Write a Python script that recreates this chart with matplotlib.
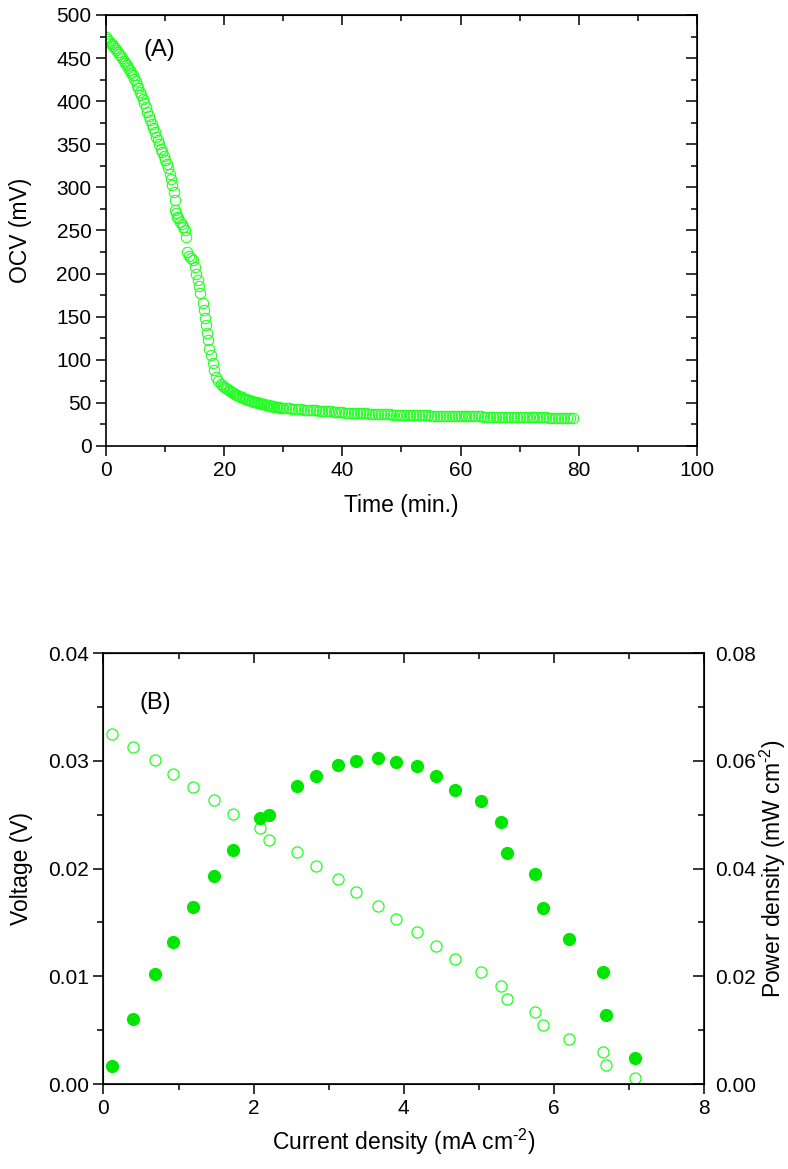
import matplotlib
matplotlib.use("Agg")
import matplotlib.pyplot as plt
from matplotlib.ticker import MultipleLocator

plt.rcParams['font.family'] = ['Liberation Sans', 'DejaVu Sans']
plt.rcParams['mathtext.fontset'] = 'custom'
plt.rcParams['mathtext.rm'] = 'Liberation Sans'
plt.rcParams['mathtext.it'] = 'Liberation Sans'
plt.rcParams['axes.unicode_minus'] = False

# --- Data (A): open circuit voltage vs time ---
time_min = [0.0, 0.25, 0.5, 0.75, 1.0, 1.25, 1.5, 1.75, 2.0, 2.25, 2.5, 2.75,
            3.0, 3.25, 3.5, 3.75, 4.0, 4.25, 4.5, 4.75, 5.0, 5.25, 5.5, 5.75,
            6.0, 6.25, 6.5, 6.75, 7.0, 7.25, 7.5, 7.75, 8.0, 8.25, 8.5, 8.75,
            9.0, 9.25, 9.5, 9.75, 10.0, 10.25, 10.5, 10.75, 11.0, 11.25, 11.5,
            11.68, 11.7, 11.8, 12.07, 12.2, 12.5, 12.8, 13.1, 13.3, 13.5,
            13.76, 14.1, 14.4, 14.7, 15.06, 15.3, 15.6, 15.75, 15.9,
            16.36, 16.6, 16.75, 16.9, 17.15, 17.3, 17.5, 17.77, 18.05, 18.27,
            18.6, 19.0, 19.4, 19.85,
            20.0, 20.25, 20.5, 20.75, 21.0, 21.25, 21.5, 21.75, 22.0, 22.25,
            22.5, 22.75, 23.0, 23.25, 23.5, 23.75, 24.0, 24.25, 24.5, 24.75,
            25.0, 25.25, 25.5, 25.75, 26.0, 26.25, 26.5, 26.75, 27.0, 27.25,
            27.5, 27.75, 28.0, 28.25, 28.5, 28.75, 29.0, 29.25, 29.5, 29.75,
            30.0, 30.5, 31.0, 31.5, 32.0, 32.5, 33.0, 33.5, 34.0, 34.5, 35.0,
            35.5, 36.0, 36.5, 37.0, 37.5, 38.0, 38.5, 39.0, 39.5, 40.0, 40.5,
            41.0, 41.5, 42.0, 42.5, 43.0, 43.5, 44.0, 44.5, 45.0, 45.5, 46.0,
            46.5, 47.0, 47.5, 48.0, 48.5, 49.0, 49.5, 50.0, 50.5, 51.0, 51.5,
            52.0, 52.5, 53.0, 53.5, 54.0, 54.5, 55.0, 55.5, 56.0, 56.5, 57.0,
            57.5, 58.0, 58.5, 59.0, 59.5, 60.0, 60.5, 61.0, 61.5, 62.0, 62.5,
            63.0, 63.5, 64.0, 64.5, 65.0, 65.5, 66.0, 66.5, 67.0, 67.5, 68.0,
            68.5, 69.0, 69.5, 70.0, 70.5, 71.0, 71.5, 72.0, 72.5, 73.0, 73.5,
            74.0, 74.5, 75.0, 75.5, 76.0, 76.5, 77.0, 77.5, 78.0, 78.5, 79.0]
ocv_mv = [474, 472, 470, 468, 466, 464, 462, 459, 457, 455, 452, 450,
          447, 444, 442, 439, 436, 433, 430, 426, 423, 419, 415, 411,
          407, 402, 398, 393, 388, 383, 378, 374, 369, 364, 359, 355,
          350, 345, 341, 336, 332, 327, 322, 316, 310, 303, 295,
          285, 274, 270, 266, 264, 260, 257, 254, 250, 243,
          225, 220, 218, 216, 208, 200, 193, 186, 178,
          166, 158, 148, 140, 131, 123, 113, 106, 96, 88,
          80, 75, 72, 69,
          68, 67, 66, 65, 63.5, 62.5, 61.5, 60.5, 59.5, 58.7,
          58, 57.2, 56.5, 55.8, 55, 54.4, 53.8, 53.2, 52.6, 52,
          51.5, 51, 50.5, 50, 49.5, 49, 48.6, 48.2, 47.8, 47.4,
          47, 46.7, 46.3, 46, 45.7, 45.4, 45.1, 44.8, 44.5, 44.2,
          44, 43.7, 43.5, 43.2, 43, 42.7, 42.5, 42.2, 42, 41.7, 41.5,
          41.2, 41, 40.7, 40.5, 40.2, 40, 39.7, 39.5, 39.2, 39, 38.8,
          38.5, 38.4, 38.2, 38.1, 38, 37.8, 37.7, 37.5, 37.4, 37.2, 37.1,
          37, 36.9, 36.7, 36.6, 36.5, 36.4, 36.3, 36.2, 36.1, 36, 35.9,
          35.8, 35.7, 35.6, 35.5, 35.4, 35.4, 35.3, 35.2, 35.1, 35.1, 35,
          34.9, 34.8, 34.8, 34.7, 34.7, 34.6, 34.5, 34.4, 34.4, 34.3, 34.3,
          34.2, 34.2, 34.1, 34.1, 34, 34, 33.9, 33.9, 33.8, 33.8, 33.7,
          33.7, 33.6, 33.6, 33.5, 33.5, 33.4, 33.4, 33.3, 33.3, 33.2, 33.2,
          33.1, 33.1, 33, 33, 33, 32.9, 32.9, 32.8, 32.8, 32.7, 32.7]

# --- Data (B): polarization and power curves ---
current_density = [0.11, 0.39, 0.69, 0.92, 1.19, 1.47, 1.73, 2.08, 2.21,
                   2.58, 2.83, 3.12, 3.37, 3.66, 3.90, 4.18, 4.43, 4.68,
                   5.03, 5.30, 5.38, 5.75, 5.86, 6.20, 6.65, 6.70, 7.08]
voltage_v = [0.0325, 0.0313, 0.0301, 0.0288, 0.0276, 0.0264, 0.0251, 0.0238,
             0.0226, 0.0215, 0.0202, 0.0190, 0.0178, 0.0165, 0.0153, 0.0141,
             0.0128, 0.0116, 0.0104, 0.0091, 0.0079, 0.0067, 0.0055, 0.0042,
             0.0030, 0.0018, 0.0006]
power_mw = [0.0034, 0.0121, 0.0204, 0.0263, 0.0328, 0.0387, 0.0434, 0.0494,
            0.0499, 0.0554, 0.0572, 0.0592, 0.0600, 0.0606, 0.0598, 0.0591,
            0.0572, 0.0546, 0.0525, 0.0487, 0.0428, 0.0389, 0.0326, 0.0269,
            0.0208, 0.0128, 0.0049]

green_open = '#22ff22'
green_fill = '#00e600'
tick_fs = 15
label_fs = 16.5

fig = plt.figure(figsize=(7.88, 11.69), dpi=100)


def style_axes(ax):
    for s in ax.spines.values():
        s.set_linewidth(1.2)
    ax.tick_params(which='major', direction='out', length=7, width=1.1, labelsize=tick_fs)
    ax.tick_params(which='minor', direction='out', length=4, width=1.1)


# --- Panel A ---
axA = fig.add_axes([0.1345, 0.6185, 0.75, 0.3687])
axA.plot(time_min, ocv_mv, linestyle='none', marker='o', markersize=7.5,
         markerfacecolor='none', markeredgecolor=green_open, markeredgewidth=0.8)
axA.set_xlim(0, 100)
axA.set_ylim(0, 500)
axA.xaxis.set_major_locator(MultipleLocator(20))
axA.xaxis.set_minor_locator(MultipleLocator(10))
axA.yaxis.set_major_locator(MultipleLocator(50))
axA.yaxis.set_minor_locator(MultipleLocator(25))
style_axes(axA)
topA = axA.secondary_xaxis('top')
topA.set_xticks([0, 20, 40, 60, 80, 100], labels=[])
topA.xaxis.set_minor_locator(MultipleLocator(10))
topA.tick_params(which='major', direction='in', length=7, width=1.1)
topA.tick_params(which='minor', direction='in', length=4, width=1.1)
rightA = axA.secondary_yaxis('right')
rightA.set_yticks(list(range(0, 501, 50)), labels=[])
rightA.yaxis.set_minor_locator(MultipleLocator(25))
rightA.tick_params(which='major', direction='in', length=8, width=1.1)
rightA.tick_params(which='minor', direction='in', length=4, width=1.1)
axA.set_xlabel('Time (min.)', fontsize=label_fs)
axA.set_ylabel('OCV (mV)', fontsize=label_fs)
axA.xaxis.set_label_coords(0.5, -0.112)
axA.yaxis.set_label_coords(-0.125, 0.5)
axA.text(9.1, 459, '(A)', fontsize=17, ha='center', va='center')

# --- Panel B ---
axB = fig.add_axes([0.1313, 0.0727, 0.762, 0.3687])
axB.plot(current_density, voltage_v, linestyle='none', marker='o', markersize=8,
         markerfacecolor='none', markeredgecolor=green_open, markeredgewidth=0.9)
axB.set_xlim(0, 8)
axB.set_ylim(0, 0.04)
axB.xaxis.set_major_locator(MultipleLocator(2))
axB.xaxis.set_minor_locator(MultipleLocator(1))
axB.yaxis.set_major_locator(MultipleLocator(0.01))
axB.yaxis.set_minor_locator(MultipleLocator(0.005))
axB.yaxis.set_major_formatter(lambda v, pos: f'{v:.2f}')
style_axes(axB)
topB = axB.secondary_xaxis('top')
topB.set_xticks([0, 2, 4, 6, 8], labels=[])
topB.xaxis.set_minor_locator(MultipleLocator(1))
topB.tick_params(which='major', direction='in', length=7, width=1.1)
topB.tick_params(which='minor', direction='in', length=4, width=1.1)
axB.set_xlabel(r'Current density (mA cm$^{\text{-2}}$)', fontsize=label_fs)
axB.set_ylabel('Voltage (V)', fontsize=label_fs)
axB.xaxis.set_label_coords(0.5, -0.1)
axB.yaxis.set_label_coords(-0.118, 0.5)
axB.text(0.69, 0.0354, '(B)', fontsize=17, ha='center', va='center')

axP = axB.twinx()
axP.plot(current_density, power_mw, linestyle='none', marker='o', markersize=8.5,
         markerfacecolor=green_fill, markeredgecolor=green_fill)
axP.set_ylim(0, 0.08)
axP.yaxis.set_major_locator(MultipleLocator(0.02))
axP.yaxis.set_minor_locator(MultipleLocator(0.01))
axP.yaxis.set_major_formatter(lambda v, pos: f'{v:.2f}')
axP.tick_params(which='major', direction='in', length=8, width=1.1, labelsize=tick_fs, pad=8)
axP.tick_params(which='minor', direction='in', length=4, width=1.1)
axP.set_ylabel(r'Power density (mW cm$^{\text{-2}}$)', fontsize=label_fs)
axP.yaxis.set_label_coords(1.09, 0.5)

fig.savefig('out.png', dpi=100)
